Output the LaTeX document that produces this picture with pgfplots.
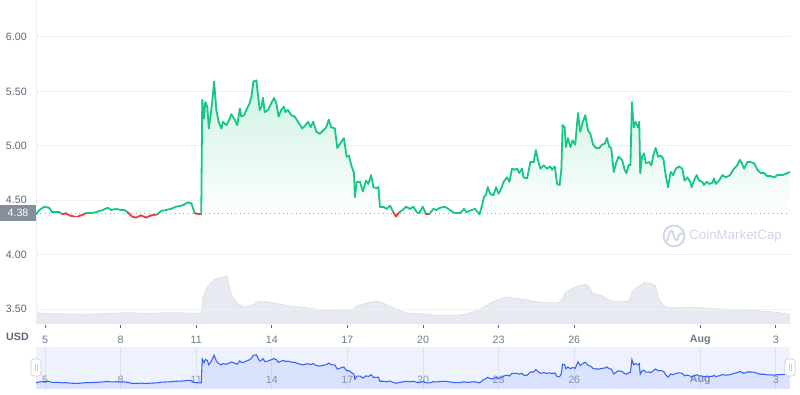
\documentclass[border=0pt]{standalone}
\usepackage{fontspec}
\setmainfont{Liberation Sans}
\usepackage{pgfplots}
\pgfplotsset{compat=1.18}
\usepackage{pgfplotstable}

\definecolor{cmcgreen}{RGB}{22,199,132}
\definecolor{cmcred}{RGB}{234,57,67}
\definecolor{gridcol}{RGB}{237,240,244}
\definecolor{labcol}{RGB}{88,102,126}
\definecolor{ticklab}{RGB}{110,121,140}
\definecolor{volcol}{RGB}{231,234,240}
\definecolor{navbg}{RGB}{238,241,254}
\definecolor{navline}{RGB}{56,97,251}
\definecolor{navgrid}{RGB}{221,226,242}
\definecolor{navlab}{RGB}{140,150,170}
\definecolor{wm}{RGB}{207,214,228}
\definecolor{boxcol}{RGB}{135,142,155}
\definecolor{dotcol}{RGB}{160,166,178}
\definecolor{fillgreen}{RGB}{205,242,226}
\definecolor{handle}{RGB}{200,205,215}

\pgfplotstableread{
d p
4.64 4.37
4.78 4.41
4.97 4.44
5.17 4.43
5.28 4.39
5.44 4.39
5.57 4.39
5.70 4.37
5.83 4.38
5.97 4.36
6.16 4.35
6.30 4.35
6.43 4.36
6.63 4.38
6.83 4.38
7.02 4.39
7.29 4.41
7.49 4.43
7.62 4.41
7.82 4.42
8.02 4.41
8.15 4.41
8.28 4.39
8.45 4.35
8.61 4.34
8.81 4.36
9.01 4.34
9.21 4.36
9.47 4.37
9.60 4.40
9.80 4.41
10.00 4.42
10.20 4.44
10.40 4.45
10.53 4.46
10.67 4.48
10.81 4.47
10.94 4.38
11.14 4.37
11.20 4.37
11.24 5.42
11.31 5.25
11.36 5.40
11.44 5.36
11.50 5.16
11.57 5.28
11.63 5.39
11.71 5.59
11.80 5.33
11.89 5.22
12.00 5.16
12.06 5.22
12.20 5.19
12.33 5.25
12.39 5.29
12.53 5.24
12.63 5.19
12.73 5.34
12.79 5.27
12.90 5.28
12.99 5.33
13.12 5.39
13.19 5.45
13.27 5.59
13.39 5.60
13.43 5.51
13.52 5.33
13.59 5.36
13.65 5.44
13.72 5.31
13.85 5.33
13.98 5.39
14.09 5.44
14.18 5.39
14.27 5.27
14.38 5.33
14.48 5.36
14.54 5.31
14.64 5.33
14.78 5.28
14.91 5.27
15.04 5.22
15.21 5.16
15.30 5.18
15.44 5.22
15.54 5.17
15.64 5.22
15.77 5.13
15.90 5.11
16.03 5.14
16.16 5.17
16.26 5.24
16.36 5.17
16.50 5.16
16.60 4.98
16.71 5.02
16.77 5.04
16.86 5.07
16.97 4.90
17.06 4.91
17.17 4.81
17.26 4.75
17.30 4.53
17.37 4.67
17.50 4.67
17.61 4.58
17.66 4.62
17.74 4.68
17.83 4.65
17.94 4.73
18.03 4.62
18.16 4.61
18.23 4.62
18.29 4.44
18.43 4.44
18.56 4.42
18.69 4.45
18.82 4.39
18.93 4.35
19.06 4.39
19.19 4.41
19.33 4.44
19.48 4.42
19.62 4.44
19.75 4.39
19.85 4.38
19.99 4.44
20.12 4.37
20.25 4.37
20.41 4.42
20.54 4.41
20.67 4.43
20.87 4.44
21.07 4.41
21.27 4.38
21.47 4.38
21.63 4.42
21.73 4.39
21.93 4.41
22.06 4.42
22.24 4.37
22.33 4.44
22.42 4.53
22.50 4.55
22.57 4.62
22.66 4.56
22.74 4.55
22.80 4.55
22.90 4.62
23.00 4.56
23.11 4.61
23.20 4.67
23.33 4.71
23.43 4.67
23.53 4.79
23.64 4.78
23.73 4.79
23.82 4.75
23.93 4.79
23.99 4.71
24.13 4.70
24.26 4.85
24.39 4.85
24.48 4.96
24.56 4.87
24.66 4.79
24.79 4.82
24.92 4.79
25.05 4.81
25.12 4.78
25.23 4.81
25.32 4.65
25.42 4.64
25.49 4.78
25.54 5.19
25.62 5.17
25.67 4.99
25.75 5.07
25.85 4.99
25.94 5.05
26.04 5.01
26.15 5.30
26.24 5.13
26.34 5.22
26.44 5.28
26.55 5.14
26.64 5.11
26.75 5.01
26.87 4.98
27.00 4.98
27.10 5.01
27.21 5.02
27.30 5.07
27.39 4.99
27.47 4.98
27.57 4.76
27.66 4.84
27.76 4.90
27.90 4.87
28.00 4.78
28.07 4.75
28.16 4.82
28.23 4.82
28.29 5.40
28.36 5.17
28.43 5.22
28.53 5.17
28.58 5.22
28.62 4.75
28.69 4.90
28.77 4.93
28.84 4.84
28.97 4.85
29.06 4.82
29.14 4.91
29.23 4.98
29.33 4.90
29.43 4.91
29.54 4.88
29.63 4.73
29.72 4.62
29.83 4.76
29.93 4.73
30.03 4.79
30.16 4.81
30.29 4.79
30.38 4.68
30.49 4.71
30.60 4.67
30.66 4.62
30.75 4.68
30.86 4.73
30.95 4.68
31.08 4.67
31.15 4.64
31.26 4.67
31.35 4.65
31.48 4.66
31.55 4.70
31.61 4.65
31.75 4.68
31.88 4.73
32.01 4.71
32.18 4.73
32.34 4.79
32.47 4.82
32.57 4.87
32.65 4.84
32.74 4.79
32.87 4.85
33.00 4.85
33.14 4.84
33.27 4.78
33.40 4.75
33.53 4.75
33.66 4.72
33.80 4.72
33.93 4.71
34.06 4.73
34.26 4.73
34.46 4.75
34.59 4.76
}\price

\pgfplotstableread{
d v
4.64 3.4
5.50 3.2
6.50 3.0
7.50 3.3
8.20 3.5
9.00 3.3
10.00 3.5
10.68 3.4
11.20 3.4
11.27 8.2
11.47 11.8
11.73 13.8
12.00 14.4
12.24 14.9
12.33 10.8
12.46 8.2
12.66 6.2
12.86 5.4
13.12 5.6
13.32 6.2
13.48 7.0
13.72 6.9
14.11 6.5
14.51 5.8
14.91 5.4
15.30 5.1
15.70 4.6
16.23 4.1
16.71 4.4
17.23 4.6
17.37 5.6
17.76 6.5
18.16 7.0
18.36 6.7
18.69 5.4
19.09 4.1
19.35 3.4
20.01 3.1
20.67 2.6
21.20 2.6
21.73 3.1
22.13 4.1
22.39 5.1
22.74 6.8
23.13 7.9
23.33 8.4
23.53 8.1
24.06 7.5
24.46 6.9
24.72 6.7
25.38 6.7
25.52 7.7
25.65 9.7
25.91 11.0
26.18 11.8
26.44 12.3
26.57 11.8
26.71 9.7
27.10 8.7
27.37 7.5
27.63 6.9
28.16 6.9
28.29 9.7
28.43 11.0
28.62 11.8
28.77 12.8
29.03 12.6
29.23 11.8
29.36 7.7
29.56 5.6
29.70 5.1
30.09 5.1
30.75 5.2
31.42 4.8
32.74 4.4
33.80 3.8
34.59 3.0
}\volume

\begin{document}
\begin{tikzpicture}
\useasboundingbox (0pt,0pt) rectangle (600pt,296.25pt);

% volume
\begin{axis}[
  at={(27pt,53.25pt)}, anchor=south west, scale only axis,
  width=565.5pt, height=243pt,
  xmin=4.643, xmax=34.563, ymin=0, ymax=100,
  axis lines=none, ticks=none, clip=true]
  \addplot[fill=volcol, draw=volcol!92!black, line width=0.3pt] table[x=d,y=v]{\volume} \closedcycle;
\end{axis}

% main price axis
\begin{axis}[
  at={(27pt,52.5pt)}, anchor=south west, scale only axis,
  width=565.5pt, height=243.75pt,
  xmin=4.643, xmax=34.563, ymin=3.353, ymax=6.340,
  axis lines*=left,
  x axis line style={draw=none},
  y axis line style={draw=gridcol, line width=0.75pt},
  ytick={3.5,4,4.5,5,5.5,6},
  /pgf/number format/fixed, /pgf/number format/fixed zerofill,
  /pgf/number format/precision=2, /pgf/number format/assume math mode=true,
  yticklabel style={font=\fontsize{8}{9.6}\selectfont, text=labcol, anchor=east, inner sep=0pt, xshift=-6.75pt},
  ymajorgrids, grid style={gridcol, line width=0.75pt},
  xtick={5,8,11,14,17,20,23,26,31,34},
  xticklabels={5,8,11,14,17,20,23,26,\textbf{Aug},3},
  xticklabel style={font=\fontsize{8}{9.6}\selectfont, text=ticklab, anchor=center, inner sep=0pt, yshift=-9pt},
  xtick align=outside,
  x tick style={draw=labcol, line width=0.6pt},
  major tick length=2.25pt,
  y tick style={draw=none},
  clip=true]
  \addplot[top color=fillgreen, bottom color=white, draw=none] table[x=d,y=p]{\price} -- (axis cs:34.59,4.38) -- (axis cs:4.64,4.38) -- cycle;
  \addplot[dotcol, line width=0.75pt, dash pattern=on 0.75pt off 2.5pt] coordinates {(4.643,4.38) (34.563,4.38)};
  \addplot[mesh, point meta=explicit,
    colormap={rg}{color(0)=(cmcred) color(1)=(cmcgreen) color(2)=(cmcgreen)},
    colormap access=piecewise constant,
    point meta min=4.28, point meta max=4.48,
    line width=1.35pt, line cap=round, line join=round]
    table[x=d,y=p,meta=p]{\price};
\end{axis}

% navigator
\begin{axis}[
  at={(27pt,4.5pt)}, anchor=south west, scale only axis,
  width=565.5pt, height=31.5pt,
  xmin=4.643, xmax=34.563, ymin=4.10, ymax=5.95,
  axis background/.style={fill=navbg},
  axis line style={draw=none},
  ytick=\empty,
  xtick={5,8,11,14,17,20,23,26,31,34},
  xticklabels={5,8,11,14,17,20,23,26,\textbf{Aug},3},
  xticklabel style={font=\fontsize{8}{9.6}\selectfont, text=navlab, anchor=center, inner sep=0pt, yshift=6.75pt},
  major tick length=0pt,
  xmajorgrids, grid style={navgrid, line width=0.6pt},
  clip=true]
  \addplot[fill=navline, fill opacity=0.1, draw=none] table[x=d,y=p]{\price} \closedcycle;
  \addplot[navline, line width=0.8pt] table[x=d,y=p]{\price};
\end{axis}

\begin{scope}[x=0.75pt,y=0.75pt]
% current price box
\fill[boxcol] (0,174) rectangle (36,189.5);
\node[text=white, font=\fontsize{8}{9.6}\selectfont, inner sep=0pt] at (18,181.75) {4.38};

% USD label
\node[text=labcol, font=\fontsize{8}{9.6}\selectfont\bfseries, inner sep=0pt] at (17.5,58) {USD};

% watermark
\draw[wm, line width=1.4pt] (674,159) circle (10.5);
\draw[wm, line width=1.4pt, line cap=round, line join=round] (667,154) -- (670,163) .. controls (671,165) and (672,165) .. (673,162) -- (675,156) .. controls (676,154) and (677,154) .. (678,157) -- (679,160) .. controls (680,162) and (682,162) .. (683,161);
\node[text=wm, font=\fontsize{10}{12}\selectfont, anchor=west, inner sep=0pt] at (689,159) {CoinMarketCap};

% navigator handles
\filldraw[fill=white, draw=handle, line width=0.5pt, rounded corners=2pt] (31,19) rectangle (41,36);
\draw[handle, line width=0.5pt] (35,24) -- (35,31) (37,24) -- (37,31);
\filldraw[fill=white, draw=handle, line width=0.5pt, rounded corners=2pt] (785,19) rectangle (795,36);
\draw[handle, line width=0.5pt] (789,24) -- (789,31) (791,24) -- (791,31);
\end{scope}
\end{tikzpicture}
\end{document}
